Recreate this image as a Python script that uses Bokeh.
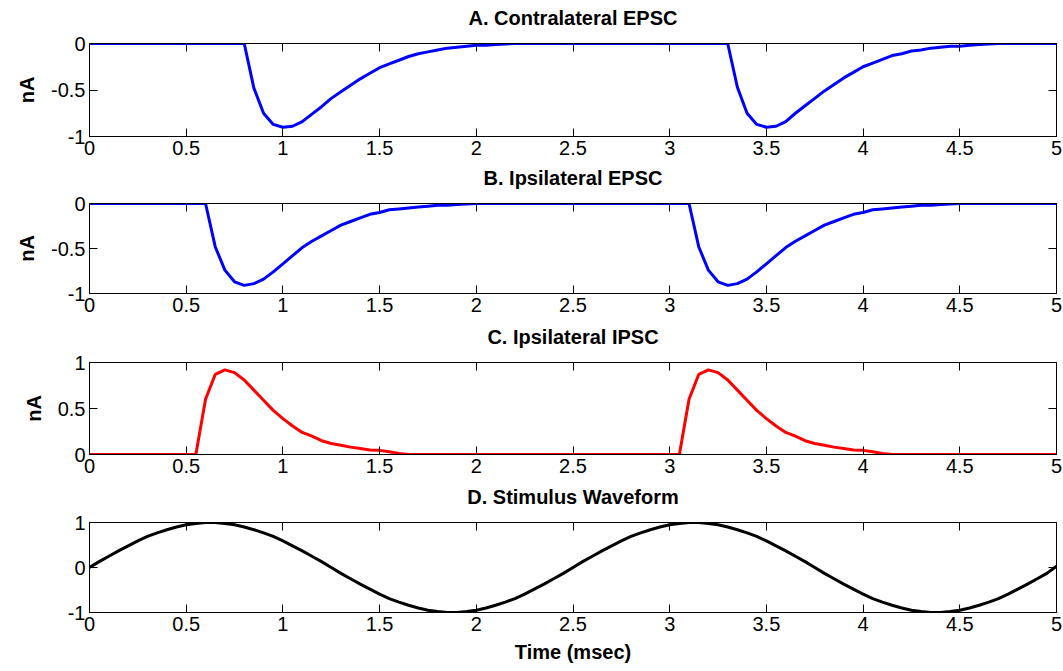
import numpy as np
from bokeh.plotting import figure
from bokeh.layouts import column
from bokeh.models import LinearAxis, FixedTicker, Range1d
from bokeh.embed import file_html
from bokeh.resources import INLINE

# ---------------- data ----------------
titles = ["A. Contralateral EPSC", "B. Ipsilateral EPSC", "C. Ipsilateral IPSC", "D. Stimulus Waveform"]
x_ticks = [0, 0.5, 1, 1.5, 2, 2.5, 3, 3.5, 4, 4.5, 5]
x_tick_labels = ["0", "0.5", "1", "1.5", "2", "2.5", "3", "3.5", "4", "4.5", "5"]

# A. Contralateral EPSC (nA)
a_time = [0, 0.8, 0.85, 0.9, 0.95, 1.0, 1.05, 1.1, 1.15, 1.2, 1.25, 1.3, 1.35, 1.4, 1.45,
          1.5, 1.55, 1.6, 1.65, 1.7, 1.75, 1.8, 1.85, 1.9, 1.95, 2.0, 2.05, 2.1, 2.15, 2.2,
          3.3, 3.35, 3.4, 3.45, 3.5, 3.55, 3.6, 3.65, 3.7, 3.75, 3.8, 3.85, 3.9, 3.95,
          4.0, 4.05, 4.1, 4.15, 4.2, 4.25, 4.3, 4.35, 4.4, 4.45, 4.5, 4.55, 4.6, 4.65, 4.7, 5.0]
a_epsc = [0, 0, -0.48, -0.75, -0.87, -0.90, -0.89, -0.84, -0.76, -0.68, -0.59, -0.52, -0.45, -0.38, -0.32,
          -0.26, -0.22, -0.18, -0.14, -0.11, -0.09, -0.07, -0.05, -0.04, -0.03, -0.02, -0.02, -0.01, -0.005, 0,
          0, -0.47, -0.75, -0.87, -0.90, -0.89, -0.84, -0.75, -0.67, -0.59, -0.51, -0.44, -0.37, -0.31,
          -0.25, -0.21, -0.17, -0.13, -0.11, -0.08, -0.07, -0.05, -0.04, -0.03, -0.03, -0.02, -0.01, -0.005, 0, 0]

# B. Ipsilateral EPSC (nA)
b_time = [0, 0.6, 0.65, 0.7, 0.75, 0.8, 0.85, 0.9, 0.95, 1.0, 1.05, 1.1, 1.15, 1.2, 1.25,
          1.3, 1.35, 1.4, 1.45, 1.5, 1.55, 1.6, 1.65, 1.7, 1.75, 1.8, 1.85, 1.9, 1.95, 2.0,
          3.1, 3.15, 3.2, 3.25, 3.3, 3.35, 3.4, 3.45, 3.5, 3.55, 3.6, 3.65, 3.7, 3.75,
          3.8, 3.85, 3.9, 3.95, 4.0, 4.05, 4.1, 4.15, 4.2, 4.25, 4.3, 4.35, 4.4, 4.45, 4.5, 5.0]
b_epsc = [0, 0, -0.48, -0.74, -0.87, -0.91, -0.89, -0.84, -0.76, -0.67, -0.58, -0.49, -0.42, -0.36, -0.30,
          -0.24, -0.20, -0.16, -0.12, -0.10, -0.07, -0.06, -0.05, -0.04, -0.03, -0.02, -0.02, -0.01, -0.005, 0,
          0, -0.48, -0.74, -0.87, -0.91, -0.89, -0.84, -0.76, -0.67, -0.58, -0.49, -0.42, -0.36, -0.30,
          -0.24, -0.20, -0.16, -0.12, -0.10, -0.07, -0.06, -0.05, -0.04, -0.03, -0.02, -0.02, -0.01, -0.005, 0, 0]

# C. Ipsilateral IPSC (nA)
c_time = [0, 0.55, 0.6, 0.65, 0.7, 0.75, 0.8, 0.85, 0.9, 0.95, 1.0, 1.05, 1.1, 1.15, 1.2,
          1.25, 1.3, 1.35, 1.4, 1.45, 1.5, 1.55, 1.6, 1.65,
          3.05, 3.1, 3.15, 3.2, 3.25, 3.3, 3.35, 3.4, 3.45, 3.5, 3.55, 3.6, 3.65, 3.7,
          3.75, 3.8, 3.85, 3.9, 3.95, 4.0, 4.05, 4.1, 4.15, 5.0]
c_ipsc = [0, 0, 0.60, 0.87, 0.92, 0.89, 0.81, 0.70, 0.59, 0.48, 0.39, 0.31, 0.24, 0.20, 0.15,
          0.12, 0.10, 0.08, 0.065, 0.05, 0.045, 0.03, 0.01, 0,
          0, 0.60, 0.87, 0.92, 0.89, 0.81, 0.70, 0.59, 0.48, 0.39, 0.31, 0.24, 0.20, 0.15,
          0.12, 0.10, 0.08, 0.065, 0.05, 0.045, 0.03, 0.01, 0, 0]

# D. Stimulus waveform (normalised)
d_time = np.linspace(0, 5, 101)
d_stim = [0, 0.13, 0.25, 0.37, 0.48, 0.59, 0.69, 0.77, 0.84, 0.90, 0.95, 0.98, 1.0, 1.0, 0.98, 0.95, 0.90,
          0.84, 0.77, 0.69, 0.59, 0.48, 0.37, 0.25, 0.13, 0, -0.13, -0.25, -0.37, -0.48, -0.59, -0.69,
          -0.77, -0.84, -0.90, -0.95, -0.98, -1.0, -1.0, -0.98, -0.95, -0.90, -0.84, -0.77, -0.69, -0.59,
          -0.48, -0.37, -0.25, -0.13, 0,
          0.13, 0.25, 0.37, 0.48, 0.59, 0.69, 0.77, 0.84, 0.90, 0.95, 0.98, 1.0, 1.0, 0.98, 0.95, 0.90,
          0.84, 0.77, 0.69, 0.59, 0.48, 0.37, 0.25, 0.13, 0, -0.13, -0.25, -0.37, -0.48, -0.59, -0.69,
          -0.77, -0.84, -0.90, -0.95, -0.98, -1.0, -1.0, -0.98, -0.95, -0.90, -0.84, -0.77, -0.69, -0.59,
          -0.48, -0.37, -0.25, -0.13, 0.03]

epsc_yticks = [-1, -0.5, 0]
epsc_ylabels = ["-1", "-0.5", "0"]
ipsc_yticks = [0, 0.5, 1]
ipsc_ylabels = ["0", "0.5", "1"]
stim_yticks = [-1, 0, 1]
stim_ylabels = ["-1", "0", "1"]

FONT = "Liberation Sans"
FS = "20px"


def style_axis(ax, ticks, labels, show):
    ax.ticker = FixedTicker(ticks=ticks)
    ax.major_tick_in = 8
    ax.major_tick_out = 0
    ax.minor_tick_line_color = None
    ax.axis_line_color = "black"
    ax.major_tick_line_color = "black"
    ax.major_label_text_font = FONT
    if show:
        ax.major_label_overrides = {tk: lb for tk, lb in zip(ticks, labels)}
        ax.major_label_text_font_size = FS
        ax.major_label_text_color = "black"
        ax.major_label_standoff = 4
    else:
        ax.major_label_text_color = None
        ax.major_label_text_font_size = "1px"
        ax.major_label_standoff = 0


def bold_label(ax, text, standoff):
    ax.axis_label = text
    ax.axis_label_text_font = FONT
    ax.axis_label_text_font_size = FS
    ax.axis_label_text_font_style = "bold"
    ax.axis_label_text_color = "black"
    ax.axis_label_standoff = standoff


def panel(title, t, y, color, yr, yticks, ylabels, height, top, bottom, ylabel="nA", xlabel=None):
    p = figure(width=1063, height=height, output_backend="svg", toolbar_location=None,
               x_range=Range1d(0, 5), y_range=Range1d(*yr),
               min_border_left=89, min_border_right=7, min_border_top=top, min_border_bottom=bottom)
    p.grid.visible = False
    p.outline_line_color = "black"
    p.outline_line_alpha = 1
    p.background_fill_color = "white"
    p.border_fill_color = "white"

    bottom_ax = p.below[0]
    left_ax = p.left[0]
    style_axis(bottom_ax, x_ticks, x_tick_labels, True)
    style_axis(left_ax, yticks, ylabels, True)
    top_ax = LinearAxis()
    style_axis(top_ax, x_ticks, x_tick_labels, False)
    bold_label(top_ax, title, 15)          # panel title, centred over the frame
    p.add_layout(top_ax, "above")
    right_ax = LinearAxis()
    style_axis(right_ax, yticks, ylabels, False)
    p.add_layout(right_ax, "right")

    if ylabel:
        bold_label(left_ax, ylabel, 10)
    if xlabel:
        bold_label(bottom_ax, xlabel, 7)

    p.line(t, y, line_color=color, line_width=3)
    return p


pa = panel(titles[0], a_time, a_epsc, "#0000ff", (-1, 0), epsc_yticks, epsc_ylabels, 163, 43, 27)
pb = panel(titles[1], b_time, b_epsc, "#0000ff", (-1, 0), epsc_yticks, epsc_ylabels, 157, 40, 27)
pc = panel(titles[2], c_time, c_ipsc, "#ff0000", (0, 1), ipsc_yticks, ipsc_ylabels, 161, 42, 27)
pd = panel(titles[3], d_time, d_stim, "#000000", (-1, 1), stim_yticks, stim_ylabels, 189, 41, 58,
           ylabel=None, xlabel="Time (msec)")

layout = column(pa, pb, pc, pd, spacing=0)
open("out.html", "w").write(file_html(layout, INLINE))
